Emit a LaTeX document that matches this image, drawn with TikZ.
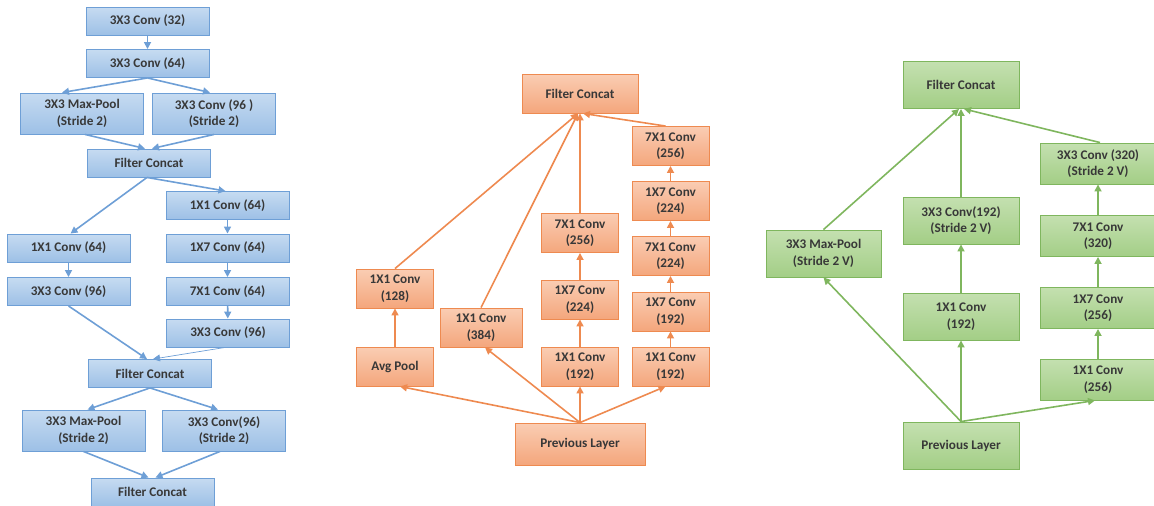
\documentclass[tikz,border=0pt]{standalone}
\usepackage{fontspec}
\setmainfont{Carlito}
\usepackage{xcolor}
\usetikzlibrary{arrows.meta}
\definecolor{blueline}{HTML}{6E9FD6}
\definecolor{bluetop}{HTML}{C6DBF1}
\definecolor{bluebot}{HTML}{9DC0E6}
\definecolor{orangeline}{HTML}{EE8A50}
\definecolor{orangetop}{HTML}{FACDB3}
\definecolor{orangebot}{HTML}{F4A67C}
\definecolor{greenline}{HTML}{7FB65E}
\definecolor{greentop}{HTML}{C4E0B0}
\definecolor{greenbot}{HTML}{A3CE86}

\begin{document}
\begin{tikzpicture}[
  x=1pt,y=-1pt,
  ->,>={Triangle[length=7pt,width=7pt]}, % defines the style of the edge/arrow
  line width=1.6pt,
  box/.style={rectangle,draw,line width=0.9pt,inner sep=0pt,align=center,text=black!78,font=\fontsize{13.2}{16.5}\selectfont\bfseries}, % common box
  blue node/.style={box,draw=blueline,top color=bluetop,bottom color=bluebot,minimum width=123pt,minimum height=28pt}, % left block
  blue tall/.style={blue node,minimum height=41pt},
  orange node/.style={box,draw=orangeline,top color=orangetop,bottom color=orangebot,minimum width=77pt,minimum height=39pt}, % middle block
  green node/.style={box,draw=greenline,top color=greentop,bottom color=greenbot,minimum width=116pt,minimum height=47pt} % right block
  ]
  \useasboundingbox (0,0) rectangle (1154,506);

  % left: stem
  \node[blue node] (B1) at (147.5,21) {3X3 Conv (32)};
  \node[blue node] (B2) at (147.5,63.5) {3X3 Conv (64)};
  \node[blue tall] (B3) at (82,113.5) {3X3 Max-Pool\\(Stride 2)};
  \node[blue tall] (B4) at (214,113.5) {3X3 Conv (96 )\\(Stride 2)};
  \node[blue node] (B5) at (149,163) {Filter Concat};
  \node[blue node] (B6) at (227.5,205.5) {1X1 Conv (64)};
  \node[blue node] (B7) at (68.5,248) {1X1 Conv (64)};
  \node[blue node] (B8) at (227.5,248) {1X7 Conv (64)};
  \node[blue node] (B9) at (68.5,291.5) {3X3 Conv (96)};
  \node[blue node] (B10) at (227.5,291.5) {7X1 Conv (64)};
  \node[blue node] (B11) at (228,333) {3X3 Conv (96)};
  \node[blue node] (B12) at (150,373.5) {Filter Concat};
  \node[blue tall] (B13) at (83.5,430.5) {3X3 Max-Pool\\(Stride 2)};
  \node[blue tall] (B14) at (224,430.5) {3X3 Conv(96)\\(Stride 2)};
  \node[blue node] (B15) at (152.5,492) {Filter Concat};

  \path[blueline]
    (B1) edge (B2)
    (B2.south) edge ([xshift=-20pt]B3.north)
    (B2.south) edge ([xshift=-4pt]B4.north)
    ([xshift=3pt]B3.south) edge ([xshift=-4pt]B5.north)
    (B4.south) edge ([xshift=3pt]B5.north)
    ([xshift=-2pt]B5.south) edge ([xshift=2pt]B7.north)
    ([xshift=-2pt]B5.south) edge ([xshift=-2pt]B6.north)
    (B6) edge (B8)
    (B8) edge (B10)
    (B10) edge (B11)
    (B7) edge (B9)
    (B9.south) edge ([xshift=-3pt]B12.north)
    ([xshift=-3pt]B11.south) edge[line width=0.7pt] ([xshift=3pt]B12.north)
    (B12.south) edge ([xshift=4pt]B13.north)
    (B12.south) edge ([xshift=-6pt]B14.north)
    (B13.south) edge ([xshift=-4pt]B15.north)
    ([xshift=-4pt]B14.south) edge ([xshift=3pt]B15.north);

  % middle: 17x17 block
  \node[orange node,minimum width=116pt] (O0) at (580,93.5) {Filter Concat};
  \node[orange node] (O1) at (395,288.5) {1X1 Conv\\(128)};
  \node[orange node] (O2) at (395,366.5) {Avg Pool};
  \node[orange node,minimum width=82pt] (O3) at (481,327.5) {1X1 Conv\\(384)};
  \node[orange node] (O4) at (580,233) {7X1 Conv\\(256)};
  \node[orange node] (O5) at (580,299.5) {1X7 Conv\\(224)};
  \node[orange node] (O6) at (580,366.5) {1X1 Conv\\(192)};
  \node[orange node] (O7) at (670.5,146) {7X1 Conv\\(256)};
  \node[orange node] (O8) at (670.5,201) {1X7 Conv\\(224)};
  \node[orange node] (O9) at (670.5,256) {7X1 Conv\\(224)};
  \node[orange node] (O10) at (670.5,311.5) {1X7 Conv\\(192)};
  \node[orange node] (O11) at (670.5,366.5) {1X1 Conv\\(192)};
  \node[orange node,minimum width=130pt,minimum height=42pt] (O12) at (580,444) {Previous Layer};

  \path[orangeline]
    (O12.north) edge ([xshift=5pt]O2.south)
    (O12.north) edge ([xshift=4pt]O3.south)
    (O12.north) edge (O6.south)
    (O12.north) edge ([xshift=-5pt]O11.south)
    (O2) edge (O1)
    (O6) edge (O5)
    (O5) edge (O4)
    (O11) edge (O10)
    (O10) edge (O9)
    (O9) edge (O8)
    (O8) edge (O7)
    (O1.north) edge ([xshift=-2pt]O0.south)
    (O3.north) edge ([xshift=-2pt]O0.south)
    (O4.north) edge (O0.south)
    ([xshift=-5pt]O7.north) edge ([xshift=3pt]O0.south);

  % right: 8x8 block
  \node[green node] (G0) at (961,85) {Filter Concat};
  \node[green node,minimum width=115pt] (G1) at (823.5,253.5) {3X3 Max-Pool\\(Stride 2 V)};
  \node[green node] (G2) at (961,220.5) {3X3 Conv(192)\\(Stride 2 V)};
  \node[green node] (G3) at (961,316.5) {1X1 Conv\\(192)};
  \node[green node,minimum width=115pt,minimum height=41pt] (G4) at (1098,163.5) {3X3 Conv (320)\\(Stride 2 V)};
  \node[green node,minimum width=115pt,minimum height=41pt] (G5) at (1098,236) {7X1 Conv\\(320)};
  \node[green node,minimum width=115pt,minimum height=41pt] (G6) at (1098,308) {1X7 Conv\\(256)};
  \node[green node,minimum width=115pt,minimum height=41pt] (G7) at (1098,379.5) {1X1 Conv\\(256)};
  \node[green node] (G8) at (961,445.5) {Previous Layer};

  \path[greenline]
    (G8.north) edge (G1.south)
    (G8.north) edge (G3.south)
    (G8.north) edge ([xshift=-3pt]G7.south)
    (G3) edge (G2)
    (G2) edge (G0)
    (G7) edge (G6)
    (G6) edge (G5)
    (G5) edge (G4)
    (G1.north) edge ([xshift=-2pt]G0.south)
    ([xshift=2pt]G4.north) edge ([xshift=3pt]G0.south);
\end{tikzpicture}
\end{document}
